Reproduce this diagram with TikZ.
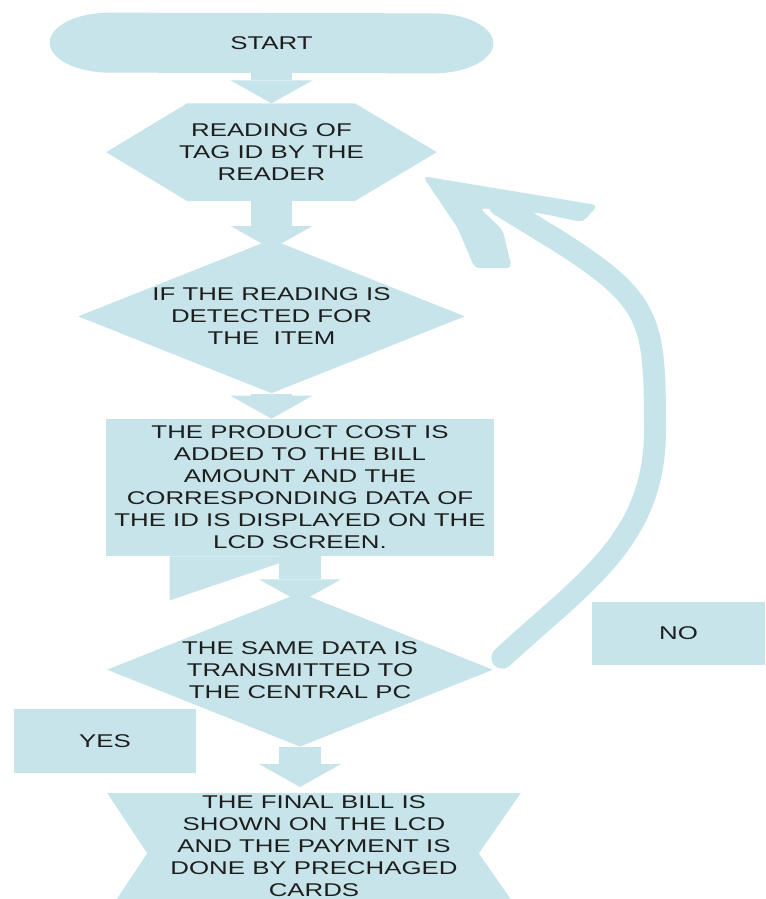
\documentclass[tikz,border=0pt]{standalone}
\usepackage{fontspec}
\setmainfont{Liberation Sans}[FakeStretch=1.4]
\usepackage{tikz}
\usetikzlibrary{shapes.geometric, arrows.meta, positioning, backgrounds}

\definecolor{flowblue}{RGB}{198,228,233}
\definecolor{flowtext}{RGB}{30,30,30}

\begin{document}
\begin{tikzpicture}[x=0.02cm, y=-0.02cm]
    \tikzstyle{base} = [inner sep=0pt, align=center, text=flowtext,
                        font=\fontsize{10.5}{12.5}\selectfont]
    \tikzstyle{outline} = [base, rectangle]
    \tikzstyle{process} = [base, rectangle, fill=flowblue]
    \tikzstyle{decision} = [base, diamond, aspect=2.5, fill=flowblue,
                            minimum width=7.74cm, minimum height=3.08cm]
    \tikzstyle{arr} = [line width=0.84cm, color=flowblue,
                       -{Triangle[width=1.64cm, length=0.46cm, line width=0pt]}]
    \tikzstyle{loopback} = [line width=0.44cm, color=flowblue, line cap=round]

    \useasboundingbox (0,0) rectangle (765,899);
    \clip (0,0) rectangle (765,899);

    \node (start) [outline, minimum width=8.86cm, minimum height=1.2cm] at (271.5,43) {START};
    \node (read)  [outline, minimum width=6.6cm, minimum height=1.94cm, below=0.6cm of start]
                  {READING OF\\TAG ID BY THE\\READER};
    \node (dec1)  [decision, below=0.76cm of read]
                  {IF THE READING IS\\DETECTED FOR\\THE\ \ ITEM};
    \node (proc)  [process, minimum width=7.76cm, minimum height=2.74cm,
                   below=0.5cm of dec1, xshift=0.57cm]
                  {THE PRODUCT COST IS\\ADDED TO THE BILL\\AMOUNT AND THE\\
                   CORRESPONDING DATA OF\\THE ID IS DISPLAYED ON THE\\LCD SCREEN.};
    \node (dec2)  [decision, minimum width=7.72cm, below=0.72cm of proc]
                  {THE SAME DATA IS\\TRANSMITTED TO\\THE CENTRAL PC};
    \node (final) [outline, minimum width=8.26cm, minimum height=2.12cm,
                   below=0.92cm of dec2, xshift=0.28cm]
                  {THE FINAL BILL IS\\SHOWN ON THE LCD\\AND THE PAYMENT IS\\
                   DONE BY PRECHAGED\\CARDS};
    \node (yes)   [process, minimum width=3.66cm, minimum height=1.28cm] at (105,741) {YES};
    \node (no)    [process, minimum width=3.46cm, minimum height=1.26cm] at (678.5,633.5) {NO};

    % shapes behind the texts
    \begin{scope}[on background layer]
      \fill[flowblue] ([xshift=1.2cm]start.north west)
          arc[start angle=90, end angle=270, x radius=1.2cm, y radius=0.6cm]
          -- ([xshift=-1.2cm]start.south east)
          arc[start angle=-90, end angle=90, x radius=1.2cm, y radius=0.6cm] -- cycle;
      \fill[flowblue] (read.west) -- ([xshift=1.62cm]read.north west)
          -- ([xshift=-1.64cm]read.north east) -- (read.east)
          -- ([xshift=-1.64cm]read.south east) -- ([xshift=1.62cm]read.south west) -- cycle;
      \fill[flowblue] (final.north west) -- (final.north east) -- ([shift={(-42,7)}]final.east)
          -- ([yshift=-0.28cm]final.south east) -- ([yshift=-0.28cm]final.south west)
          -- ([shift={(40,7)}]final.west) -- cycle;
      \fill[flowblue] ([xshift=1.28cm]proc.south west) -- ++(0,44)
          -- ([shift={(-21,7)}]proc.south) -- ([xshift=-0.42cm]proc.south) -- cycle;
    \end{scope}

    \draw[arr] (start.south) -- (read.north);
    \draw[arr] (read.south) -- ([yshift=-0.2cm]dec1.north);
    \draw[arr] (dec1.south) -- (dec1.south |- proc.north);
    \draw[arr] (proc.south) -- ([yshift=-0.2cm]dec2.north);
    \draw[arr] (dec2.south) -- ([yshift=0.12cm]dec2.south |- final.north);

    % NO: back to the reader
    \coordinate (turn) at (655,430);
    \coordinate (bend) at (560,242);
    \draw[loopback] ([shift={(9,-12)}]dec2.east) .. controls +(81,-75) and +(0,110) .. (turn)
        .. controls +(0,-110) and +(92,59) .. (bend) -- ([shift={(63,53)}]read.east);
    \begin{scope}[shift={(read.east)}]
      \fill[flowblue, rounded corners=0.1cm] (-14,24) -- (161,53) -- (146,70) -- (103,61)
          -- (43,56) -- (66,78) -- (75,116) -- (38,116) -- (21,76) -- cycle;
    \end{scope}
\end{tikzpicture}
\end{document}
